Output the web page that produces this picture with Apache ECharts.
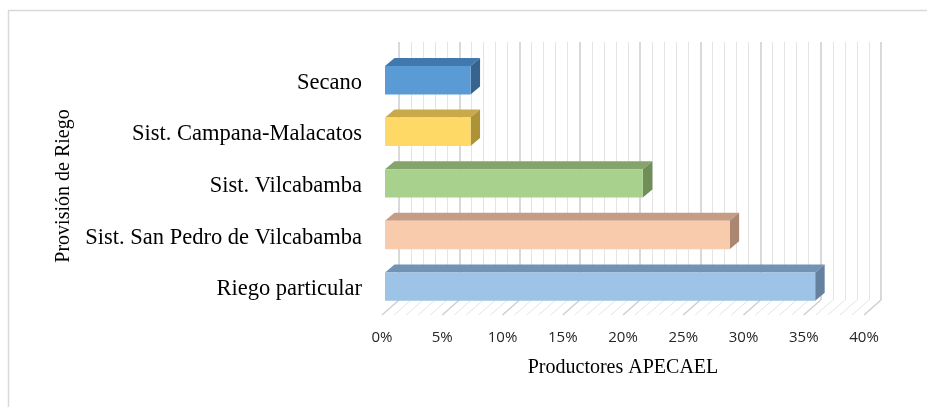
<!DOCTYPE html>
<html>
<head>
<meta charset="utf-8">
<script src="https://cdn.jsdelivr.net/npm/echarts@6/dist/echarts.min.js"></script>
<style>
  html, body { margin: 0; padding: 0; background: #ffffff; }
  #chart { width: 927px; height: 407px; }
</style>
</head>
<body>
<div id="chart"></div>
<script>
// Irrigation source of APECAEL producers (share of producers, %)
const categories = [
  'Secano',
  'Sist. Campana-Malacatos',
  'Sist. Vilcabamba',
  'Sist. San Pedro de Vilcabamba',
  'Riego particular'
];
const shares = [7.1, 7.1, 21.4, 28.6, 35.7];

// Percentage axis
const axisMin = 0;
const axisMax = 40;
const axisStep = 5;
const minorPerStep = 5;

// Face colours of each 3D bar: front, top, right side
const frontColors = ['#5B9BD5', '#FFD966', '#A9D18E', '#F8CBAD', '#9DC3E6'];
const topColors   = ['#4178AE', '#C9A94A', '#84A46C', '#C79C84', '#7393B5'];
const sideColors  = ['#36648F', '#AE9236', '#6F8E58', '#AB8671', '#66819F'];

// Oblique depth of the floor (back wall offset) and of the bars
const wallDX = 17, wallDY = -15;
const barFrontDX = 3, barFrontDY = -2.6;
const barDepthDX = 9.5, barDepthDY = -8;

const serif = '"Liberation Serif", "Times New Roman", serif';
const sans = '"Open Sans", "Liberation Sans", sans-serif';

const chart = echarts.init(document.getElementById('chart'), null, { renderer: 'canvas' });

function renderBar(params, api) {
  const cat = api.value(1);
  const val = api.value(0);
  const i = params.dataIndex;
  const p0 = api.coord([0, cat]);
  const p1 = api.coord([val, cat]);
  const band = api.size([0, 1])[1];
  const h = band * 0.55;
  const x0 = p0[0] + barFrontDX;
  const x1 = p1[0] + barFrontDX;
  const yTop = p0[1] - h / 2 + barFrontDY;
  const yBot = yTop + h;
  return {
    type: 'group',
    children: [
      {
        type: 'polygon',
        shape: { points: [[x0, yTop], [x1, yTop], [x1 + barDepthDX, yTop + barDepthDY], [x0 + barDepthDX, yTop + barDepthDY]] },
        style: { fill: topColors[i] }
      },
      {
        type: 'polygon',
        shape: { points: [[x1, yTop], [x1 + barDepthDX, yTop + barDepthDY], [x1 + barDepthDX, yBot + barDepthDY], [x1, yBot]] },
        style: { fill: sideColors[i] }
      },
      {
        type: 'rect',
        shape: { x: x0, y: yTop, width: x1 - x0, height: h },
        style: { fill: frontColors[i] }
      }
    ]
  };
}

// Diagonal floor lines joining each percentage step of the front edge to the back wall
function renderFloor(params, api) {
  const cs = params.coordSys;
  const yFront = cs.y + cs.height;
  const children = [];
  const step = axisStep / minorPerStep;
  for (let v = axisMin; v <= axisMax + 1e-9; v += step) {
    const x = api.coord([v, 0])[0];
    const major = Math.abs(v / axisStep - Math.round(v / axisStep)) < 1e-6;
    children.push({
      type: 'line',
      shape: { x1: x, y1: yFront, x2: x + wallDX, y2: yFront + wallDY },
      style: { stroke: major ? '#cfcfcf' : '#e4e4e4', lineWidth: major ? 1.5 : 1 }
    });
  }
  return { type: 'group', children: children };
}

const option = {
  backgroundColor: '#ffffff',
  animation: false,
  graphic: [
    {
      type: 'rect',
      shape: { x: 8.5, y: 10.5, width: 1000, height: 1000 },
      style: { fill: 'none', stroke: '#d9d9d9', lineWidth: 1.5 },
      silent: true,
      z: -10
    }
  ],
  grid: [
    { left: 382, top: 57, width: 482, height: 258 },
    { left: 382 + wallDX, top: 57 + wallDY, width: 482, height: 258 }
  ],
  xAxis: [
    {
      type: 'value',
      gridIndex: 0,
      min: axisMin,
      max: axisMax,
      interval: axisStep,
      name: 'Productores APECAEL',
      nameLocation: 'middle',
      nameGap: 43,
      nameTextStyle: { fontFamily: serif, fontSize: 20, color: '#000000' },
      axisLine: { show: false },
      axisTick: { show: false },
      splitLine: { show: false },
      axisLabel: {
        formatter: '{value}%',
        fontFamily: sans,
        fontSize: 15,
        color: '#262626',
        margin: 15
      }
    },
    {
      type: 'value',
      gridIndex: 1,
      min: axisMin,
      max: axisMax,
      interval: axisStep,
      axisLine: { show: false },
      axisTick: { show: false },
      axisLabel: { show: false },
      splitLine: { show: true, lineStyle: { color: '#cccccc', width: 1.5 } },
      minorTick: { show: false, splitNumber: minorPerStep },
      minorSplitLine: { show: true, lineStyle: { color: '#e4e4e4', width: 1 } }
    }
  ],
  yAxis: [
    {
      type: 'category',
      gridIndex: 0,
      data: categories,
      inverse: true,
      name: 'Provisión de Riego',
      nameLocation: 'middle',
      nameRotate: 90,
      nameGap: 308,
      nameTextStyle: { fontFamily: serif, fontSize: 20, color: '#000000' },
      axisLine: { show: false },
      axisTick: { show: false },
      splitLine: { show: false },
      axisLabel: {
        fontFamily: serif,
        fontSize: 22.5,
        color: '#000000',
        margin: 20,
        padding: [10, 0, 0, 0]
      }
    },
    {
      type: 'category',
      gridIndex: 1,
      data: categories,
      inverse: true,
      show: false
    }
  ],
  series: [
    {
      type: 'custom',
      name: 'floor',
      xAxisIndex: 0,
      yAxisIndex: 0,
      data: [[axisMin, 0]],
      renderItem: renderFloor,
      silent: true,
      z: 1
    },
    {
      type: 'custom',
      name: 'Productores APECAEL',
      xAxisIndex: 0,
      yAxisIndex: 0,
      data: shares.map(function (v, i) { return [v, i]; }),
      encode: { x: 0, y: 1 },
      renderItem: renderBar,
      z: 5
    }
  ]
};

chart.setOption(option);
</script>
</body>
</html>
